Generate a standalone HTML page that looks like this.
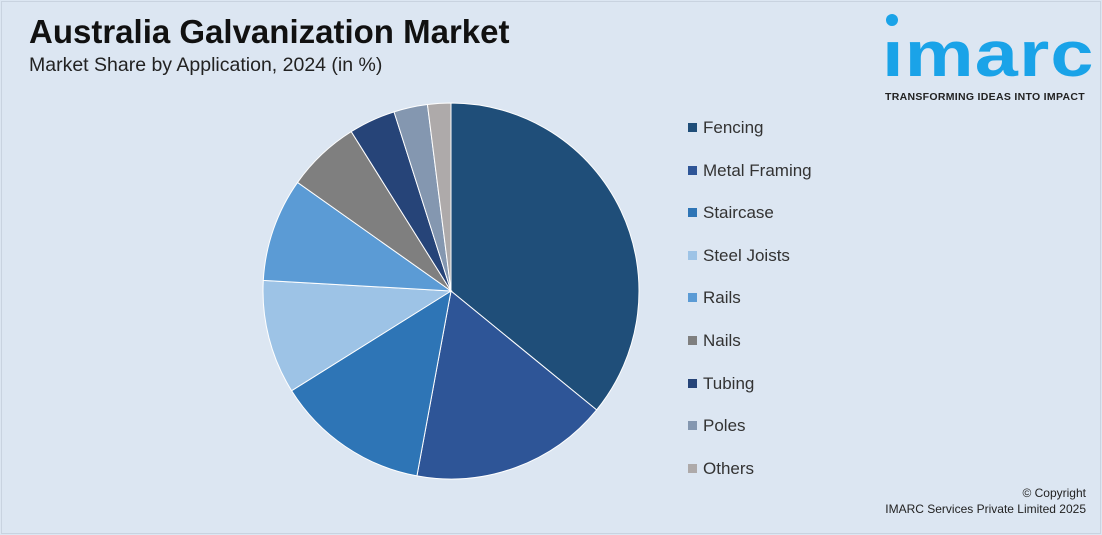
<!DOCTYPE html>
<html><head><meta charset="utf-8">
<style>
body{margin:0;width:1102px;height:535px;background:#dce6f2;font-family:"Liberation Sans",sans-serif;overflow:hidden;position:relative}
.frame{position:absolute;left:1px;top:1px;width:1098px;height:531px;border:1px solid #c9d3e0}
#title{position:absolute;left:29px;top:13px;font-size:33px;font-weight:bold;color:#111}
#subtitle{position:absolute;left:29px;top:54px;font-size:19.5px;color:#222}
.logo{position:absolute;left:882px;top:22px;font-size:64px;font-weight:bold;color:#1aa3e8;letter-spacing:1px;line-height:64px;transform-origin:0 0;transform:scaleX(1.21)}
.dot{position:absolute;left:886px;top:14px;width:12px;height:12px;border-radius:50%;background:#1aa3e8}
.tag{position:absolute;left:885px;top:91px;font-size:10.5px;font-weight:bold;color:#222;letter-spacing:0.3px}
.leg{position:absolute;left:688px;font-size:17px;color:#333}
.leg span{display:inline-block;width:9px;height:9px;margin-right:6px;vertical-align:1px}
.copy{position:absolute;right:16px;top:485px;font-size:12px;color:#222;text-align:right;line-height:16px}
</style></head><body>
<div class="frame"></div>
<div id="title">Australia Galvanization Market</div>
<div id="subtitle">Market Share by Application, 2024 (in %)</div>
<div class="dot"></div>
<div class="logo">ımarc</div>
<div class="tag">TRANSFORMING IDEAS INTO IMPACT</div>
<svg id="pie" width="1102" height="535" style="position:absolute;left:0;top:0"></svg>
<div id="legend"></div>
<div class="copy">© Copyright<br>IMARC Services Private Limited 2025</div>
<script>
const categories=["Fencing","Metal Framing","Staircase","Steel Joists","Rails","Nails","Tubing","Poles","Others"];
const values=[35.9,17.0,13.2,9.8,8.9,6.3,4.0,2.9,2.0];
const colors=["#1f4e79","#2e5597","#2e75b6","#9dc3e6","#5b9bd5","#7f7f7f","#264478","#8497b0","#aeaaaa"];
const svg=document.getElementById('pie');const NS="http://www.w3.org/2000/svg";
const cx=451,cy=291,r=188;const total=values.reduce((a,b)=>a+b,0);
let a0=0;
values.forEach((v,i)=>{
  const a1=a0+v/total*2*Math.PI;
  const x0=cx+r*Math.sin(a0),y0=cy-r*Math.cos(a0),x1=cx+r*Math.sin(a1),y1=cy-r*Math.cos(a1);
  const p=document.createElementNS(NS,'path');
  p.setAttribute('d',`M${cx},${cy}L${x0},${y0}A${r},${r} 0 ${a1-a0>Math.PI?1:0} 1 ${x1},${y1}Z`);
  p.setAttribute('fill',colors[i]);p.setAttribute('stroke','#fff');p.setAttribute('stroke-width','1');
  
  
  svg.appendChild(p);a0=a1;
});
const lg=document.getElementById('legend');
categories.forEach((c,i)=>{
  const d=document.createElement('div');d.className='leg';d.style.top=(118+i*42.6)+'px';
  d.innerHTML=`<span style="background:${colors[i]}"></span>${c}`;
  
  
  lg.appendChild(d);
});
</script>
</body></html>
